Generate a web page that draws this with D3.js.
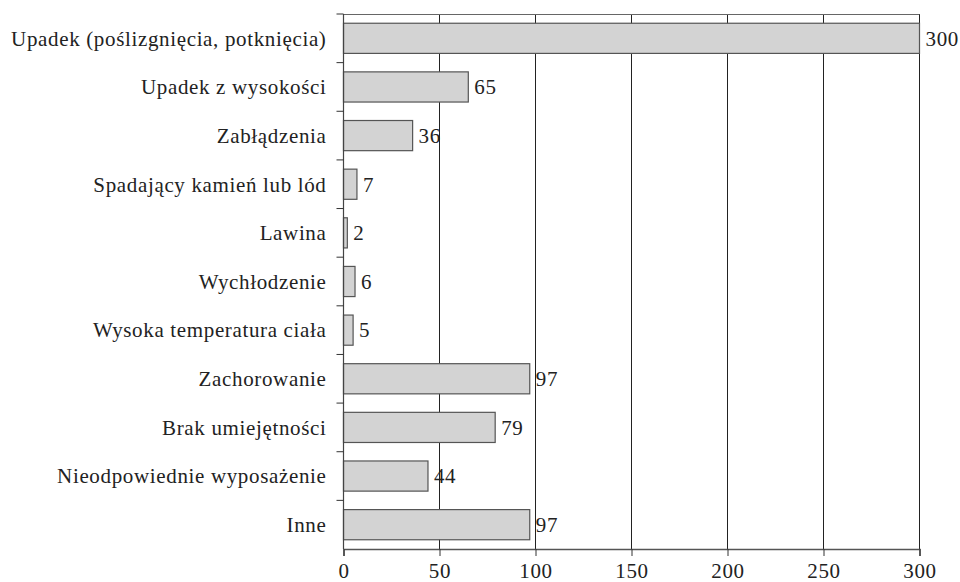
<!DOCTYPE html>
<html><head><meta charset="utf-8">
<script src="https://cdn.jsdelivr.net/npm/d3@7"></script>
<style>body{margin:0;background:#fff}svg{display:block}text{font-family:"Liberation Serif",serif;fill:#222}</style>
</head><body><svg id="c" width="960" height="582"></svg>
<script>
const categories = ["Upadek (poślizgnięcia, potknięcia)","Upadek z wysokości","Zabłądzenia","Spadający kamień lub lód","Lawina","Wychłodzenie","Wysoka temperatura ciała","Zachorowanie","Brak umiejętności","Nieodpowiednie wyposażenie","Inne"];
const values = [300,65,36,7,2,6,5,97,79,44,97];
const xTicks = [0,50,100,150,200,250,300];

const svg = d3.select("#c");
const L = 343.5, R = 919.5, T = 14, B = 549;
const FS = 21, LS = 0.65;
const x = d3.scaleLinear().domain([0,300]).range([L,R]);
const y = d3.scaleBand().domain(categories).range([T,B]).paddingInner(0.38).paddingOuter(0.19);
const band = d3.scaleBand().domain(categories).range([T,B]);

// gridlines
svg.append("g").selectAll("line").data(xTicks.slice(1)).join("line")
  .attr("x1",d=>x(d)).attr("x2",d=>x(d)).attr("y1",T).attr("y2",B)
  .attr("stroke","#222").attr("stroke-width",1);
// top border
svg.append("line").attr("x1",L).attr("x2",R).attr("y1",T+0.5).attr("y2",T+0.5).attr("stroke","#666");

// bars
svg.append("g").selectAll("rect").data(values).join("rect")
  .attr("x",x(0)).attr("y",(d,i)=>y(categories[i]))
  .attr("width",d=>x(d)-x(0)).attr("height",y.bandwidth())
  .attr("fill","#d3d3d3").attr("stroke","#555").attr("stroke-width",1.2);

// value labels
svg.append("g").selectAll("text").data(values).join("text")
  .attr("x",d=>x(d)+6).attr("y",(d,i)=>y(categories[i])+y.bandwidth()/2)
  .attr("dy","0.35em").attr("font-size",FS).attr("letter-spacing",LS).text(d=>d);

// x axis
const xa = svg.append("g").attr("transform",`translate(0,${B})`)
  .call(d3.axisBottom(x).tickValues(xTicks).tickSize(7).tickPadding(7));
xa.select(".domain").attr("stroke","#555").attr("stroke-width",1.5);
xa.selectAll(".tick line").attr("stroke","#333");
xa.selectAll("text").attr("font-size",FS).attr("letter-spacing",LS).attr("fill","#222").attr("font-family","Liberation Serif");

// y axis with ticks at band boundaries
svg.append("line").attr("x1",L).attr("x2",L).attr("y1",T).attr("y2",B).attr("stroke","#444").attr("stroke-width",1.2);
const bounds = categories.map(c=>band(c));
svg.append("g").selectAll("line").data(bounds).join("line")
  .attr("x1",L-7).attr("x2",L).attr("y1",d=>d).attr("y2",d=>d).attr("stroke","#333");
svg.append("g").selectAll("text").data(categories).join("text")
  .attr("x",L-17).attr("y",d=>y(d)+y.bandwidth()/2).attr("dy","0.35em")
  .attr("text-anchor","end").attr("font-size",FS).attr("letter-spacing",LS).text(d=>d);
</script></body></html>
